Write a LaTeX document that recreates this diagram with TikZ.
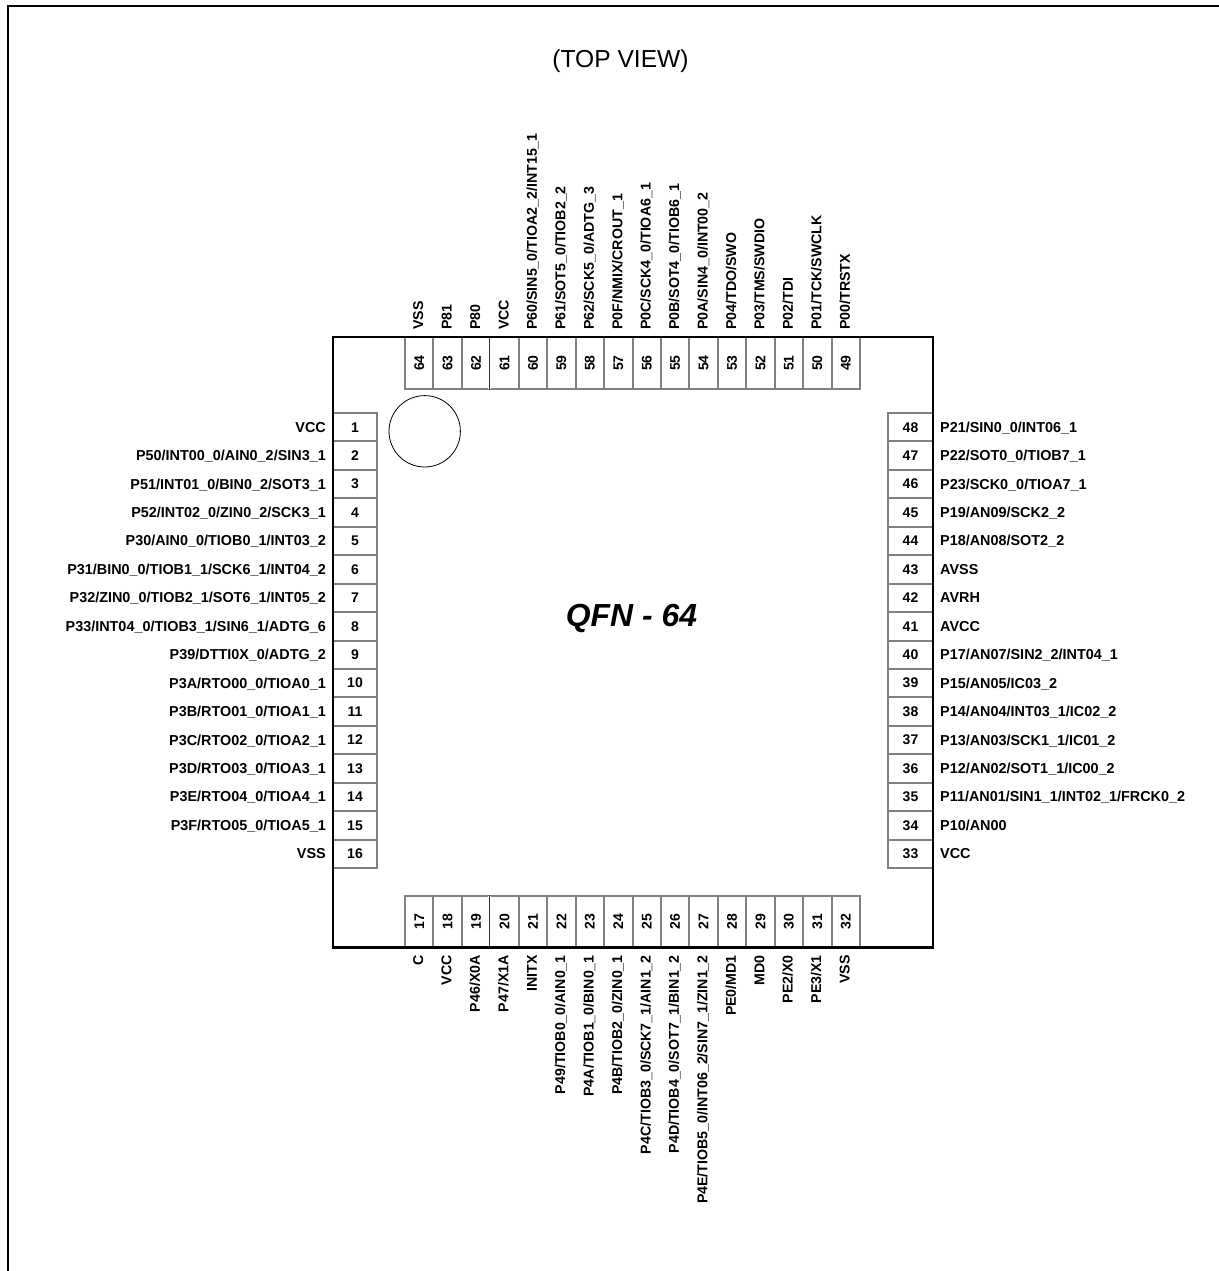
\documentclass[tikz,border=0pt]{standalone}
\usepackage{fontspec}
\setmainfont{Liberation Sans}
\catcode`\_=12
\tikzset{
  frameline/.style={line width=2.4pt,black},
  chipbox/.style={draw=black,line width=2.8pt,rectangle,inner sep=0pt,minimum width=600pt,minimum height=610.6pt},
  pinbase/.style={draw=black!50,line width=2pt,rectangle,inner sep=0pt,font=\fontsize{14}{14}\bfseries\selectfont,text=black},
  sidepin/.style={pinbase,minimum width=44pt,minimum height=28.44pt},
  vertpin/.style={pinbase,rotate=90},
  toppin/.style={vertpin,minimum width=52pt,minimum height=28.44pt},
  botpin/.style={vertpin,minimum width=51pt,minimum height=28.44pt},
  sidelabel/.style={inner sep=0pt,font=\fontsize{14.4}{14}\bfseries\selectfont,text height=10pt,text depth=0pt},
  vertlabel/.style={inner sep=0pt,font=\fontsize{14.2}{14}\bfseries\selectfont,text height=10pt,text depth=0pt,rotate=90},
  ringmark/.style={draw=black,line width=0.8pt,circle,minimum size=71.4pt,inner sep=0pt},
  thingap/.style={draw=white,line width=2.4pt,shorten >=1pt,shorten <=1pt},
  thindiv/.style={draw=black!80,line width=0.6pt},
}
\begin{document}
\begin{tikzpicture}[x=1pt,y=-1pt]
\useasboundingbox (0,0) rectangle (1218,1271);
\coordinate (fa) at (8,1275);
\coordinate (fb) at (8,6);
\coordinate (fc) at (1222,6);
\draw[frameline] (fa) -- (fb) -- (fc);
\node[inner sep=0pt,font=\fontsize{24.6}{26}\selectfont] (title) at (620.5,61) {(TOP VIEW)};
% left
\foreach \t [count=\i from 0] in {VCC,P50/INT00_0/AIN0_2/SIN3_1,P51/INT01_0/BIN0_2/SOT3_1,P52/INT02_0/ZIN0_2/SCK3_1,P30/AIN0_0/TIOB0_1/INT03_2,P31/BIN0_0/TIOB1_1/SCK6_1/INT04_2,P32/ZIN0_0/TIOB2_1/SOT6_1/INT05_2,P33/INT04_0/TIOB3_1/SIN6_1/ADTG_6,P39/DTTI0X_0/ADTG_2,P3A/RTO00_0/TIOA0_1,P3B/RTO01_0/TIOA1_1,P3C/RTO02_0/TIOA2_1,P3D/RTO03_0/TIOA3_1,P3E/RTO04_0/TIOA4_1,P3F/RTO05_0/TIOA5_1,VSS}{
  \pgfmathtruncatemacro{\n}{\i+1}
  \pgfmathsetmacro{\yy}{427.2+28.44*\i}
  \node[sidepin] (p\n) at (355,\yy) {\n};
  \node[sidelabel,anchor=east] (l\n) at (326,\yy) {\t};
}
% bottom
\foreach \t [count=\i from 0] in {C,VCC,P46/X0A,P47/X1A,INITX,P49/TIOB0_0/AIN0_1,P4A/TIOB1_0/BIN0_1,P4B/TIOB2_0/ZIN0_1,P4C/TIOB3_0/SCK7_1/AIN1_2,P4D/TIOB4_0/SOT7_1/BIN1_2,P4E/TIOB5_0/INT06_2/SIN7_1/ZIN1_2,PE0/MD1,MD0,PE2/X0,PE3/X1,VSS}{
  \pgfmathtruncatemacro{\n}{\i+17}
  \pgfmathsetmacro{\xx}{419.2+28.44*\i}
  \pgfmathsetmacro{\lx}{\xx-1.2}
  \node[botpin] (p\n) at (\xx,921.5) {\n};
  \node[vertlabel,anchor=east] (l\n) at (\lx,955) {\t};
}
% right
\foreach \t [count=\i from 0] in {VCC,P10/AN00,P11/AN01/SIN1_1/INT02_1/FRCK0_2,P12/AN02/SOT1_1/IC00_2,P13/AN03/SCK1_1/IC01_2,P14/AN04/INT03_1/IC02_2,P15/AN05/IC03_2,P17/AN07/SIN2_2/INT04_1,AVCC,AVRH,AVSS,P18/AN08/SOT2_2,P19/AN09/SCK2_2,P23/SCK0_0/TIOA7_1,P22/SOT0_0/TIOB7_1,P21/SIN0_0/INT06_1}{
  \pgfmathtruncatemacro{\n}{\i+33}
  \pgfmathsetmacro{\yy}{853.8-28.44*\i}
  \node[sidepin,minimum width=45pt] (p\n) at (910.5,\yy) {\n};
  \node[sidelabel,anchor=west] (l\n) at (940,\yy) {\t};
}
% top
\foreach \t [count=\i from 0] in {P00/TRSTX,P01/TCK/SWCLK,P02/TDI,P03/TMS/SWDIO,P04/TDO/SWO,P0A/SIN4_0/INT00_2,P0B/SOT4_0/TIOB6_1,P0C/SCK4_0/TIOA6_1,P0F/NMIX/CROUT_1,P62/SCK5_0/ADTG_3,P61/SOT5_0/TIOB2_2,P60/SIN5_0/TIOA2_2/INT15_1,VCC,P80,P81,VSS}{
  \pgfmathtruncatemacro{\n}{\i+49}
  \pgfmathsetmacro{\xx}{845.8-28.44*\i}
  \pgfmathsetmacro{\lx}{\xx-1}
  \node[toppin] (p\n) at (\xx,363) {\n};
  \node[vertlabel,anchor=west] (l\n) at (\lx,330) {\t};
}
\draw[thingap] (p61.north east) -- (p61.north west);
\draw[thindiv] (p61.north east) -- (p61.north west);
\draw[thingap] (p20.north east) -- (p20.north west);
\draw[thindiv] (p20.north east) -- (p20.north west);
\node[chipbox] (chip) at (633,642.2) {};
\node[ringmark] (ring) at (424.7,431.3) {};
\node[inner sep=0pt,font=\fontsize{31.9}{32}\bfseries\itshape\selectfont] (qfn) at (631.5,618) {QFN - 64};
\end{tikzpicture}
\end{document}
